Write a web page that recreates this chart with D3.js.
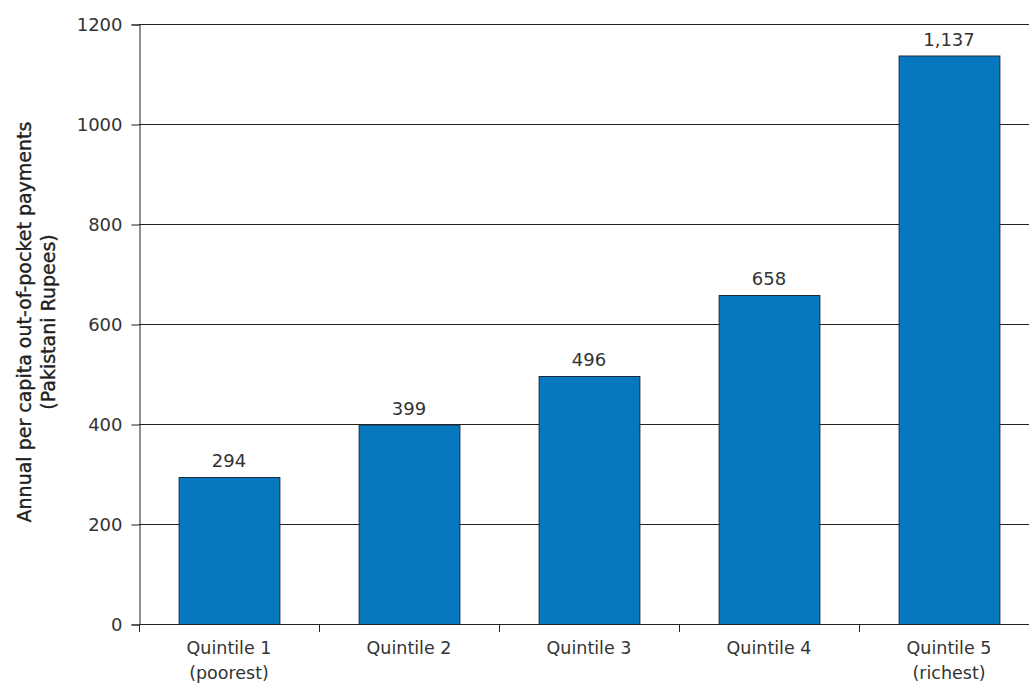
<!DOCTYPE html>
<html><head><meta charset="utf-8">
<script src="https://cdn.jsdelivr.net/npm/d3@7/dist/d3.min.js"></script>
<style>
body{margin:0;background:#fff;}
svg{display:block;}
text{font-family:"DejaVu Sans",sans-serif;}
</style></head>
<body>
<svg id="chart" width="1029" height="683"></svg>
<script>
const categories = ["Quintile 1", "Quintile 2", "Quintile 3", "Quintile 4", "Quintile 5"];
const subLabels = ["(poorest)", "", "", "", "(richest)"];
const values = [294, 399, 496, 658, 1137];
const valueLabels = ["294", "399", "496", "658", "1,137"];
const yTicks = [0, 200, 400, 600, 800, 1000, 1200];
const yTitle = ["Annual per capita out-of-pocket payments", "(Pakistani Rupees)"];

(function () {
const FONT = '"DejaVu Sans",sans-serif';
const svg = d3.select("#chart");
const mLeft = 139, mTop = 24, mBottom = 624, mRight = 1039;

const x = d3.scaleBand().domain(categories).range([mLeft, mRight]).paddingInner(0.44).paddingOuter(0.22);
const y = d3.scaleLinear().domain([0, 1200]).range([mBottom, mTop]);

// gridlines
svg.append("g").selectAll("line").data(yTicks.filter(d => d > 0)).join("line")
  .attr("x1", mLeft).attr("x2", 1029)
  .attr("y1", d => y(d) + 0.5).attr("y2", d => y(d) + 0.5)
  .attr("stroke", "#222").attr("stroke-width", 1);

// bars
svg.append("g").selectAll("rect").data(values).join("rect")
  .attr("x", (d, i) => x(categories[i]) + 0.5)
  .attr("y", d => y(d) + 0.5)
  .attr("width", x.bandwidth())
  .attr("height", d => mBottom - y(d))
  .attr("fill", "#0678bf").attr("stroke", "#1e2a36").attr("stroke-width", 1);

// value labels
svg.append("g").selectAll("text").data(values).join("text")
  .attr("x", (d, i) => x(categories[i]) + x.bandwidth() / 2)
  .attr("y", d => y(d) - 10)
  .attr("text-anchor", "middle").attr("font-size", 18).attr("fill", "#333")
  .text((d, i) => valueLabels[i]);

// y axis
const yAxis = d3.axisLeft(y).tickValues(yTicks).tickSize(8).tickPadding(9).tickFormat(d3.format("d"));
const gy = svg.append("g").attr("transform", `translate(${mLeft + 0.5},0.5)`).call(yAxis);
gy.select(".domain").attr("stroke", "#222");
gy.selectAll(".tick line").attr("stroke", "#222");
gy.selectAll(".tick text").attr("font-size", 18).attr("fill", "#333").attr("font-family", FONT);

// x axis
const xEdges = d3.range(categories.length + 1).map(i => mLeft + i * x.step());
const gx = svg.append("g");
gx.append("line").attr("x1", mLeft).attr("x2", 1029).attr("y1", mBottom + 0.5).attr("y2", mBottom + 0.5).attr("stroke", "#222");
gx.selectAll("line.t").data(xEdges.filter(v => v <= 1029)).join("line").attr("class", "t")
  .attr("x1", d => d + 0.5).attr("x2", d => d + 0.5).attr("y1", mBottom).attr("y2", mBottom + 8)
  .attr("stroke", "#222");
gx.selectAll("text.c").data(categories).join("text").attr("class", "c")
  .attr("x", d => x(d) + x.bandwidth() / 2).attr("y", mBottom + 30)
  .attr("text-anchor", "middle").attr("font-size", 17.5).attr("fill", "#333").text(d => d);
gx.selectAll("text.s").data(subLabels).join("text").attr("class", "s")
  .attr("x", (d, i) => x(categories[i]) + x.bandwidth() / 2).attr("y", mBottom + 55)
  .attr("text-anchor", "middle").attr("font-size", 17.5).attr("fill", "#333").text(d => d);

// y title
const t = svg.append("text").attr("transform", `translate(0,${(mTop + mBottom) / 2 - 2}) rotate(-90)`)
  .attr("text-anchor", "middle").attr("font-size", 19).attr("fill", "#1e1e1e")
  .attr("stroke", "#1e1e1e").attr("stroke-width", 0.35);
t.append("tspan").attr("x", 0).attr("y", 31).text(yTitle[0]);
t.append("tspan").attr("x", 0).attr("y", 55).text(yTitle[1]);
})();
</script>
</body></html>
